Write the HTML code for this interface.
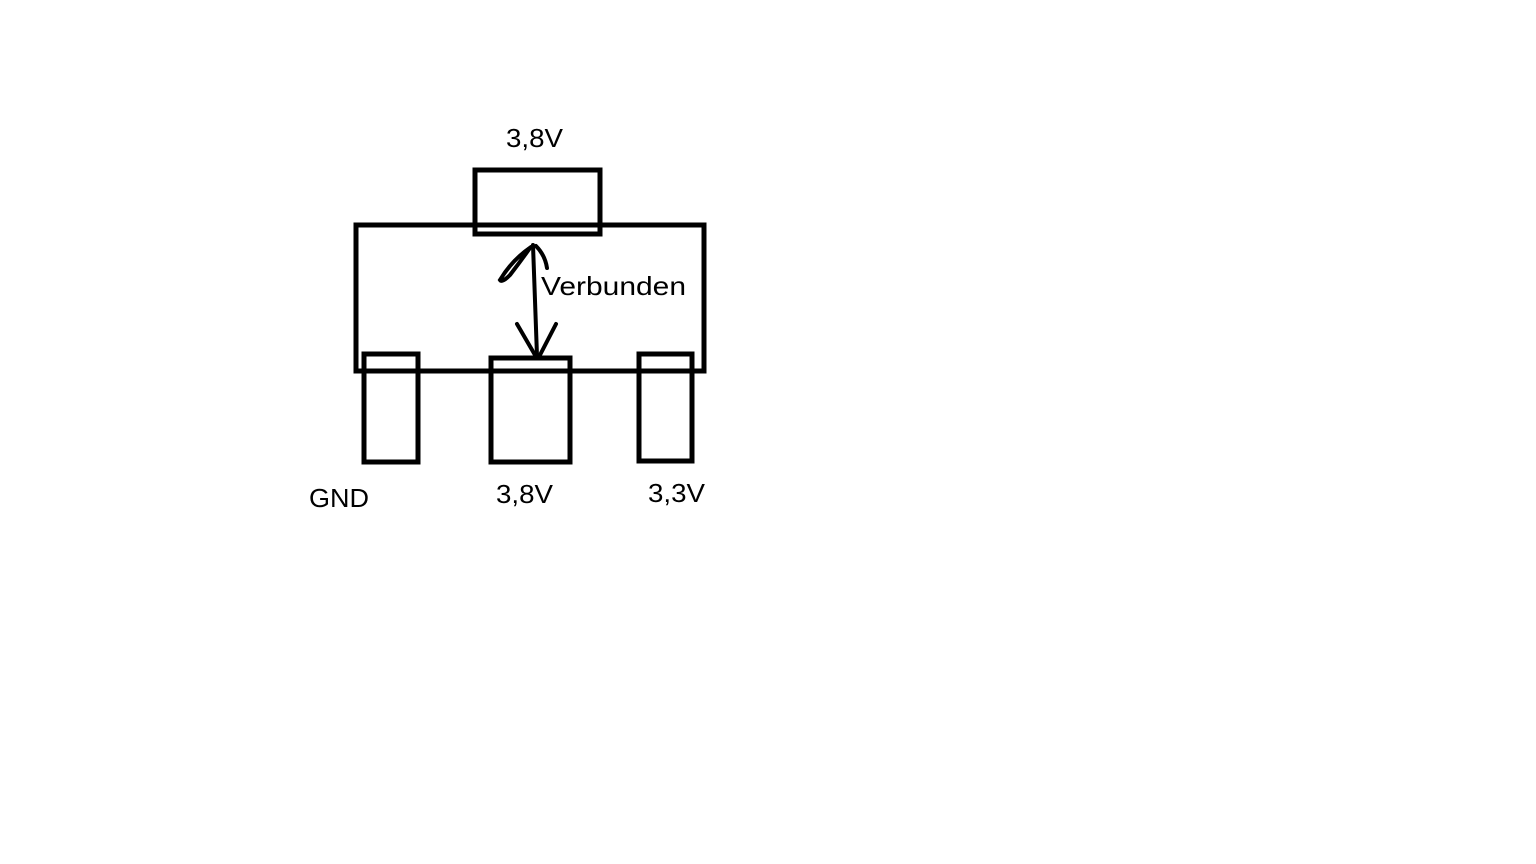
<!DOCTYPE html>
<html><head><meta charset="utf-8"><style>
html,body{margin:0;padding:0;background:#fff;}
svg{display:block}
text{font-family:"Liberation Sans","DejaVu Sans",sans-serif;font-size:26px;fill:#000}
</style></head><body>
<svg width="1536" height="864" viewBox="0 0 1536 864" xmlns="http://www.w3.org/2000/svg">
<g fill="none" stroke="#000" stroke-width="5">
<rect x="356" y="225" width="348" height="146"/>
<rect x="475" y="170" width="125" height="64"/>
<rect x="364" y="354" width="54" height="108"/>
<rect x="491" y="358" width="79" height="104"/>
<rect x="639" y="354" width="53" height="107"/>
</g>
<g fill="none" stroke="#000" stroke-width="4" stroke-linecap="round">
<path d="M533 245 L537 356"/>
<path d="M531 247 Q512 260 500 280 Q502 283 510 275 Q520 262 530 248"/>
<path d="M536 246 Q545 255 547 268"/>
<path d="M517 324 L535 355"/>
<path d="M556 324 L540 355"/>
</g>
<text x="506" y="147" textLength="57" lengthAdjust="spacingAndGlyphs">3,8V</text>
<text x="541" y="295" textLength="145" lengthAdjust="spacingAndGlyphs">Verbunden</text>
<text x="309" y="507" textLength="60" lengthAdjust="spacingAndGlyphs">GND</text>
<text x="496" y="503" textLength="57" lengthAdjust="spacingAndGlyphs">3,8V</text>
<text x="648" y="502" textLength="57" lengthAdjust="spacingAndGlyphs">3,3V</text>
</svg>
</body></html>
